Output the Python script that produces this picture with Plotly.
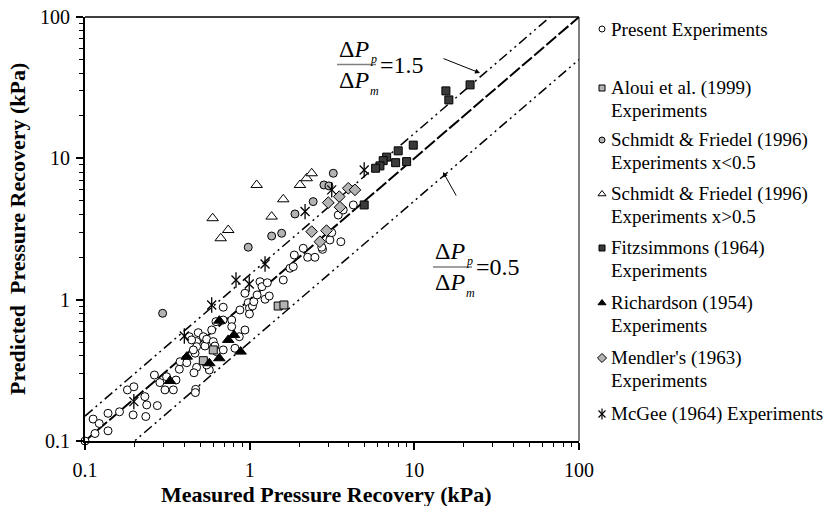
import plotly.graph_objects as go

# ---------------- data ----------------
present_x = [0.100, 0.115, 0.112, 0.122, 0.138, 0.138, 0.162, 0.181, 0.198, 0.196,
             0.231, 0.237, 0.234, 0.275, 0.264, 0.285, 0.306, 0.313, 0.344, 0.357,
             0.374, 0.378, 0.430, 0.466, 0.476, 0.459, 0.470, 0.468, 0.487, 0.476,
             0.476, 0.523, 0.535, 0.548, 0.569, 0.548, 0.601, 0.615, 0.630, 0.588,
             0.624, 0.691, 0.691, 0.778, 0.778, 0.814, 0.865, 0.936, 0.873, 0.936,
             0.980, 0.997, 0.997, 1.040, 1.060, 1.110, 1.155, 1.188, 1.240, 1.280,
             1.315, 1.600, 1.757, 1.840, 1.866, 2.115, 2.250, 2.490, 2.770, 3.070,
             3.580, 3.150, 3.450, 3.700, 4.260, 2.740, 0.415, 0.444, 0.455, 0.690]
present_y = [0.100, 0.113, 0.143, 0.133, 0.118, 0.157, 0.161, 0.230, 0.242, 0.153,
             0.206, 0.180, 0.149, 0.178, 0.293, 0.259, 0.230, 0.285, 0.230, 0.270,
             0.322, 0.364, 0.547, 0.418, 0.332, 0.304, 0.232, 0.220, 0.584, 0.505,
             0.465, 0.547, 0.470, 0.525, 0.318, 0.345, 0.505, 0.470, 0.429, 0.610,
             0.699, 0.884, 0.441, 0.718, 0.644, 0.453, 0.547, 0.610, 0.846, 1.110,
             0.952, 0.869, 0.792, 0.902, 0.968, 1.080, 1.340, 1.236, 1.007, 1.318,
             1.062, 1.378, 1.668, 1.712, 2.070, 2.310, 1.995, 1.995, 2.270, 2.645,
             2.570, 2.980, 3.970, 4.310, 4.680, 2.350, 0.358, 0.519, 0.441, 0.718]

aloui_x = [0.523, 0.601, 1.490, 1.615]
aloui_y = [0.370, 0.441, 0.902, 0.917]

schmidt_lo_x = [0.296, 0.980, 1.360, 1.564, 1.884, 2.430, 2.825, 3.030, 3.220]
schmidt_lo_y = [0.801, 2.350, 2.820, 2.950, 4.040, 4.940, 6.480, 6.380, 7.840]

schmidt_hi_x = [0.596, 0.667, 0.741, 1.103, 1.600, 1.360, 2.020, 2.220, 2.380]
schmidt_hi_y = [3.770, 2.720, 3.110, 6.480, 5.130, 3.870, 6.480, 7.230, 7.840]

fitz_x = [15.55, 16.20, 21.80, 9.85, 7.98, 8.98, 7.70, 6.79, 6.47, 6.18, 5.82, 4.96]
fitz_y = [30.00, 25.90, 33.10, 12.40, 11.30, 9.48, 9.32, 10.20, 9.63, 8.84, 8.51, 4.68]

richardson_x = [0.328, 0.415, 0.654, 0.741, 0.803, 0.881, 0.654, 0.569]
richardson_y = [0.266, 0.395, 0.710, 0.519, 0.562, 0.429, 0.385, 0.355]

mendler_x = [2.380, 3.000, 3.500, 3.540, 3.970, 4.360, 2.930, 2.670]
mendler_y = [3.030, 4.860, 5.360, 4.510, 6.140, 5.980, 3.080, 2.570]

mcgee_x = [0.198, 0.401, 0.588, 0.826, 0.994, 1.240, 2.170, 3.150, 4.960]
mcgee_y = [0.190, 0.553, 0.917, 1.378, 1.290, 1.790, 4.200, 5.980, 8.280]

ratio_values = [1.0, 1.5, 0.5]
ratio_labels = ["1.5", "0.5"]
ratio_line_x = [0.1, 100.0]

axis_tick_vals = [0.1, 1, 10, 100]
axis_tick_text = ["0.1", "1", "10", "100"]
minor_tick_vals = [m * d for d in (0.1, 1, 10) for m in range(2, 10)]

legend_lines = [
    ["Present Experiments"],
    ["Aloui et al. (1999)", "Experiments"],
    ["Schmidt & Friedel (1996)", "Experiments x<0.5"],
    ["Schmidt & Friedel (1996)", "Experiments x>0.5"],
    ["Fitzsimmons (1964)", "Experiments"],
    ["Richardson (1954)", "Experiments"],
    ["Mendler's (1963)", "Experiments"],
    ["McGee (1964) Experiments"],
]

# ---------------- layout constants ----------------
W, H = 826, 506
L, R, T, B = 85, 579, 17, 441
FONT = "Liberation Serif"
GRAY = "#b3b3b3"
DARK = "#3a3a3a"
CLEAR = "rgba(0,0,0,0)"

fig = go.Figure()

# ratio lines
line_styles = {1.0: ("13px,3px", 2.0), 1.5: ("10px,4px,2px,4px,2px,4px", 1.5),
               0.5: ("10px,4px,2px,4px,2px,4px", 1.5)}
for r in ratio_values:
    dash, wdt = line_styles[r]
    fig.add_trace(go.Scatter(x=ratio_line_x, y=[r * v for v in ratio_line_x], mode="lines",
                             line=dict(color="black", dash=dash, width=wdt),
                             hoverinfo="skip", showlegend=False))

series = [
    (present_x, present_y, "circle", "white", 8),
    (aloui_x, aloui_y, "square", GRAY, 8),
    (schmidt_lo_x, schmidt_lo_y, "circle", GRAY, 8),
    (schmidt_hi_x, schmidt_hi_y, "triangle-up", "white", 10),
    (fitz_x, fitz_y, "square", DARK, 8),
    (richardson_x, richardson_y, "triangle-up", "black", 10),
    (mendler_x, mendler_y, "diamond", GRAY, 9),
]
for sx, sy, sym, col, size in series:
    fig.add_trace(go.Scatter(x=sx, y=sy, mode="markers", cliponaxis=False, showlegend=False,
                             marker=dict(symbol=sym, size=size, color=col,
                                         line=dict(color="black", width=1))))
for sym, size in (("x-thin-open", 9), ("line-ns-open", 11)):
    fig.add_trace(go.Scatter(x=mcgee_x, y=mcgee_y, mode="markers", cliponaxis=False,
                             showlegend=False,
                             marker=dict(symbol=sym, size=size, color="black",
                                         line=dict(color="black", width=1.3))))

# ---------------- manual legend (pixel overlay axis) ----------------
legend_row_y = [29, 88, 140, 194, 248, 303, 358, 414]
legend_marker_x = 602
legend_text_x = 609
legend_syms = [("circle", "white", 6), ("square", GRAY, 6), ("circle", GRAY, 6),
               ("triangle-up", "white", 7), ("square", DARK, 6), ("triangle-up", "black", 7),
               ("diamond", GRAY, 7)]
for (sym, col, size), ry in zip(legend_syms, legend_row_y[:7]):
    fig.add_trace(go.Scatter(x=[legend_marker_x], y=[ry], xaxis="x2", yaxis="y2", mode="markers",
                             showlegend=False, hoverinfo="skip",
                             marker=dict(symbol=sym, size=size, color=col,
                                         line=dict(color="black", width=1))))
for sym, size in (("x-thin-open", 7), ("line-ns-open", 8)):
    fig.add_trace(go.Scatter(x=[legend_marker_x], y=[legend_row_y[7]], xaxis="x2", yaxis="y2",
                             mode="markers", showlegend=False, hoverinfo="skip",
                             marker=dict(symbol=sym, size=size, color="black",
                                         line=dict(color="black", width=1.2))))

annotations = []
for lines, ry in zip(legend_lines, legend_row_y):
    for k, txt in enumerate(lines):
        annotations.append(dict(x=legend_text_x, y=ry + 22 * k, xref="x2", yref="y2",
                                text=txt, showarrow=False, xanchor="left", yanchor="middle",
                                font=dict(family=FONT, size=19, color="black")))

# axis titles
annotations.append(dict(x=326, y=494, xref="x2", yref="y2", showarrow=False,
                        text="<b>Measured Pressure Recovery (kPa)</b>",
                        font=dict(family=FONT, size=22, color="black")))
annotations.append(dict(x=17, y=229, xref="x2", yref="y2", showarrow=False, textangle=-90,
                        text="<b>Predicted  Pressure Recovery (kPa)</b>",
                        font=dict(family=FONT, size=22, color="black")))

# ratio labels (fractions): (left x of fraction, y of fraction bar)
frac_font = dict(family=FONT, size=24, color="black")
sub_font = dict(family=FONT, size=12, color="black")
frac_pos = [(337, 64.5), (433, 267)]
shapes = []
for (fx, ly), val in zip(frac_pos, ratio_labels):
    annotations.append(dict(x=fx, y=ly - 16, xref="x2", yref="y2", showarrow=False,
                            xanchor="left", text="Δ<i>P</i>", font=frac_font))
    annotations.append(dict(x=fx + 31, y=ly - 6, xref="x2", yref="y2", showarrow=False,
                            xanchor="left", text="<i>p</i>", font=sub_font))
    annotations.append(dict(x=fx, y=ly + 15, xref="x2", yref="y2", showarrow=False,
                            xanchor="left", text="Δ<i>P</i>", font=frac_font))
    annotations.append(dict(x=fx + 31, y=ly + 26, xref="x2", yref="y2", showarrow=False,
                            xanchor="left", text="<i>m</i>", font=sub_font))
    annotations.append(dict(x=fx + 41, y=ly, xref="x2", yref="y2", showarrow=False,
                            xanchor="left", text="=" + val, font=frac_font))
    shapes.append(dict(type="line", xref="x2", yref="y2", x0=fx, x1=fx + 39,
                       y0=ly, y1=ly, line=dict(color="#808080", width=1.5)))

# arrows
annotations.append(dict(x=480, y=73, xref="x2", yref="y2", text="", showarrow=True,
                        ax=-38, ay=-15, arrowhead=2, arrowsize=1, arrowwidth=1,
                        arrowcolor="black"))
annotations.append(dict(x=443, y=172, xref="x2", yref="y2", text="", showarrow=True,
                        ax=14, ay=25, arrowhead=2, arrowsize=1, arrowwidth=1,
                        arrowcolor="black"))

# top / right frame lines
shapes.append(dict(type="line", xref="x2", yref="y2", x0=L, x1=R, y0=T, y1=T,
                   line=dict(color="black", width=1.5), layer="above"))
shapes.append(dict(type="line", xref="x2", yref="y2", x0=R, x1=R, y0=T, y1=B,
                   line=dict(color="black", width=1), layer="above"))

tick_font = dict(family=FONT, size=20, color="black")
common_axis = dict(type="log", range=[-1, 2], tickmode="array", tickvals=axis_tick_vals,
                   ticktext=axis_tick_text, ticks="outside", ticklen=7, tickwidth=1.5,
                   tickcolor="black", showline=True, linewidth=2, linecolor="black",
                   showgrid=False, zeroline=False, automargin=False, tickfont=tick_font,
                   minor=dict(tickmode="array", tickvals=minor_tick_vals, ticks="outside",
                              ticklen=4, tickwidth=1, tickcolor="black", showgrid=False))

fig.update_layout(
    width=W, height=H, margin=dict(l=0, r=0, t=0, b=0),
    paper_bgcolor="white", plot_bgcolor=CLEAR, showlegend=False,
    xaxis=dict(common_axis, domain=[L / W, R / W], anchor="y", ticklabelstandoff=3),
    yaxis=dict(common_axis, domain=[(H - B) / H, (H - T) / H], anchor="x",
               ticklabelstandoff=2),
    xaxis2=dict(domain=[0, 1], range=[0, W], visible=False, anchor="y2", fixedrange=True),
    yaxis2=dict(domain=[0, 1], range=[H, 0], visible=False, anchor="x2", fixedrange=True),
    annotations=annotations, shapes=shapes,
)

fig.write_html("out.html", config={"displayModeBar": False},
               post_script="document.body.style.margin='0px';")
